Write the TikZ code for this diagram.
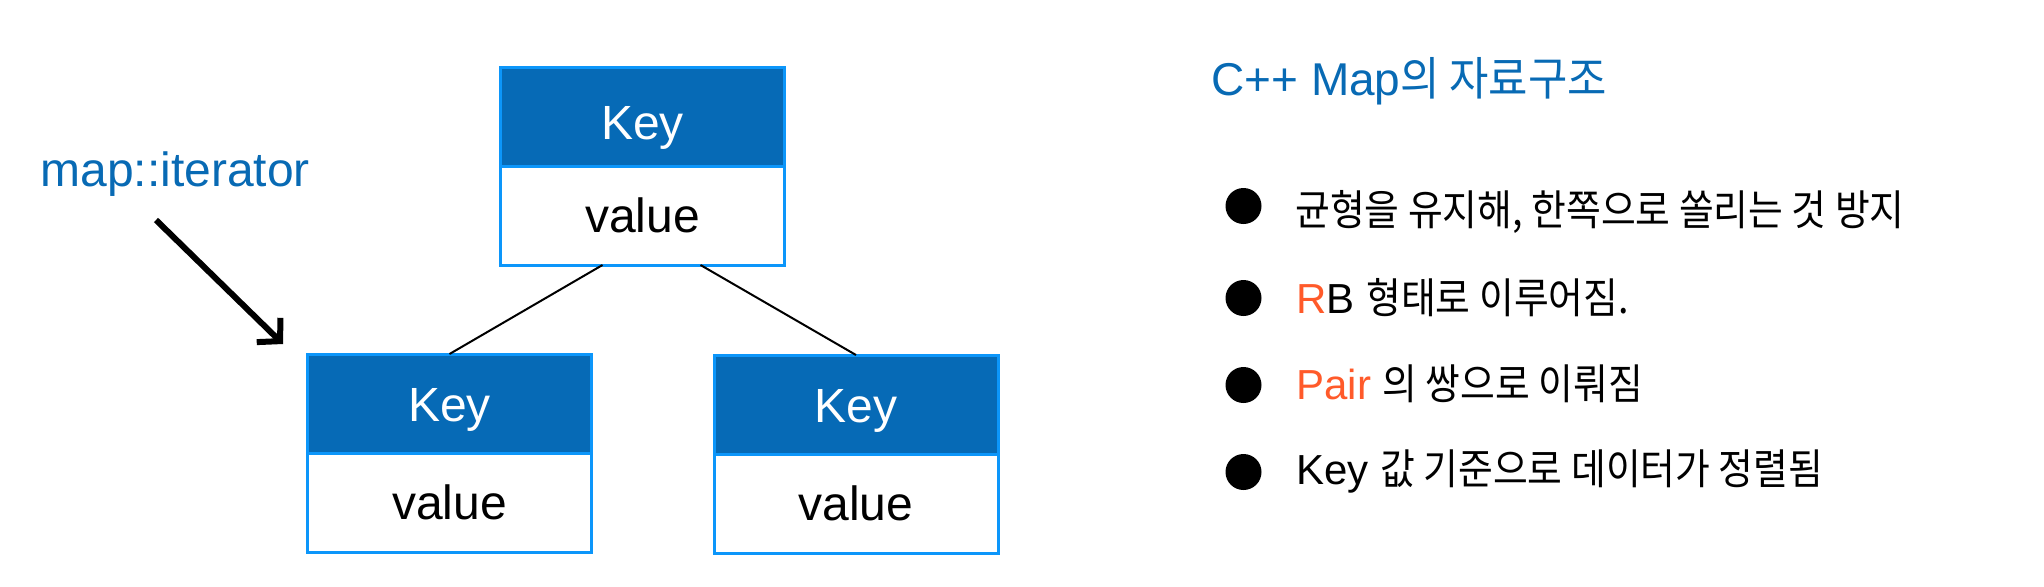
\documentclass[tikz,border=0pt]{standalone}
\usepackage{fontspec}
\usepackage{graphicx}
\setmainfont{Liberation Sans}
\newfontfamily\krfont{Noto Sans CJK KR}
\usetikzlibrary{arrows.meta}
\definecolor{keyfill}{RGB}{6,106,182}
\definecolor{boxline}{RGB}{12,150,250}
\definecolor{titleblue}{RGB}{8,106,180}
\definecolor{accent}{RGB}{255,90,42}
\newcommand{\kr}[2][0.9]{\scalebox{#1}[1]{\krfont #2}}
\begin{document}
\begin{tikzpicture}[x=0.5pt,y=-0.5pt,
  keybox/.style={draw=boxline, line width=1.5pt, fill=keyfill, text=white,
    minimum width=142pt, minimum height=49.5pt, inner sep=0pt, outer sep=0pt,
    text height=18pt, text depth=0pt, font=\fontsize{24}{28}\selectfont},
  valbox/.style={draw=boxline, line width=1.5pt, fill=white, text=black,
    minimum width=142pt, minimum height=49.5pt, inner sep=0pt, outer sep=0pt,
    font=\fontsize{24}{28}\selectfont},
  edge/.style={line width=1pt, black},
  ptr/.style={line width=3pt, black, -{Straight Barb[length=8pt,width=17pt]}},
  dot/.style={circle, fill=black, minimum size=18pt, inner sep=0pt},
  item/.style={anchor=base west, inner sep=0pt, font=\fontsize{21}{25}\selectfont},
  lbl/.style={anchor=base west, inner sep=0pt, text=titleblue},
]
\useasboundingbox (0,0) rectangle (2044,586);

% tree nodes
\node[keybox, text height=23pt] (tk) at (642.5,116.5) {Key};
\node[valbox] (tv) at (642.5,215.5) {value};
\node[keybox] (lk) at (449.5,403.5) {Key};
\node[valbox] (lv) at (449.5,502.5) {value};
\node[keybox] (rk) at (856,404.5) {Key};
\node[valbox] (rv) at (856,503.5) {value};

\draw[edge] ([xshift=-20pt]tv.south) -- (lk.north);
\draw[edge] ([xshift=29pt]tv.south) -- (rk.north);

% iterator
\node[lbl, font=\fontsize{24}{28}\selectfont] (it) at (40,186) {map::iterator};
\coordinate (itA) at (156,220);
\coordinate (itB) at (283,344);
\draw[ptr] (itA) -- (itB);

% title
\node[lbl, font=\fontsize{23}{28}\selectfont] (title) at (1211,95) {C++ Map\kr[0.93]{의 자료구조}};

% bullets
\node[dot] (b1) at (1243.5,206) {};
\node[dot] (b2) at (1243.5,298) {};
\node[dot] (b3) at (1243.5,385) {};
\node[dot] (b4) at (1243.5,472) {};

\node[item] (t1) at (1295,225) {\kr{균형을 유지해, 한쪽으로 쏠리는 것 방지}};
\node[item] (t2) at (1296,313) {\textcolor{accent}{R}B \kr{형태로 이루어짐.}};
\node[item] (t3) at (1296,399) {\textcolor{accent}{Pair} \kr{의 쌍으로 이뤄짐}};
\node[item] (t4) at (1296,484) {Key \kr{값 기준으로 데이터가 정렬됨}};
\end{tikzpicture}
\end{document}
